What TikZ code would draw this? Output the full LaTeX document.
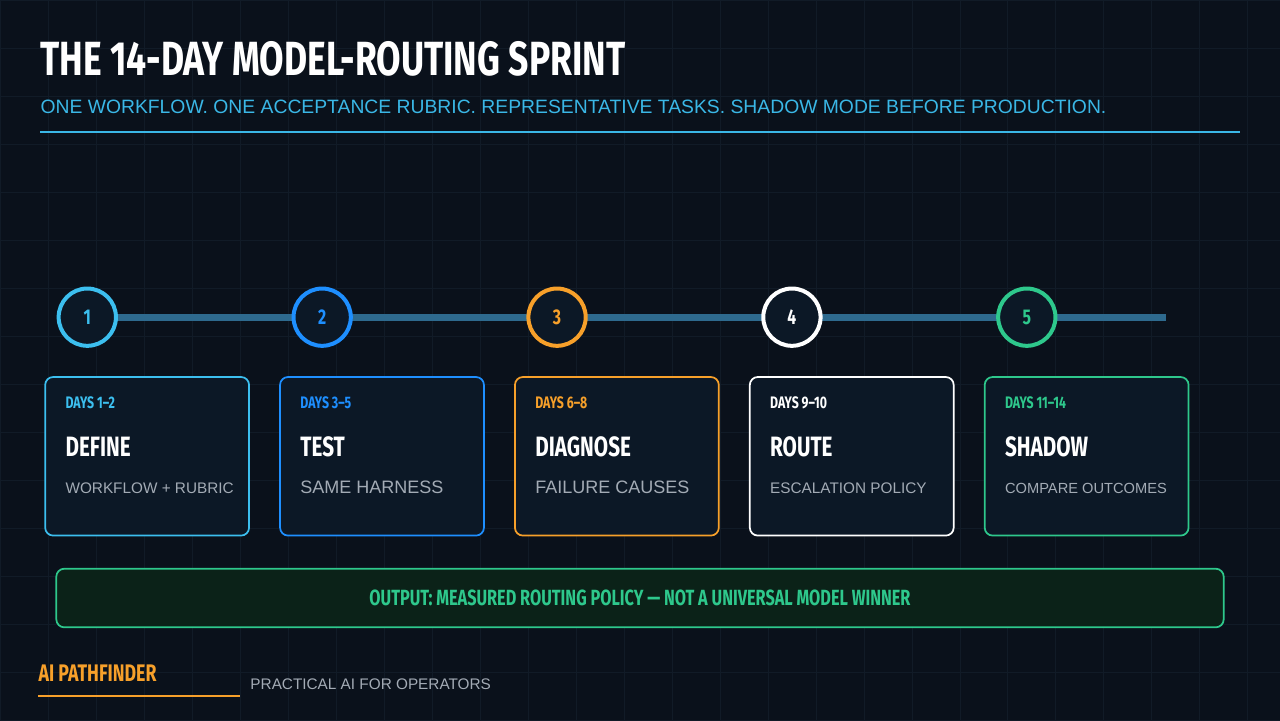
\documentclass[tikz,border=0pt]{standalone}
\usepackage{fontspec}
\setmainfont{Liberation Sans}
\newfontfamily\condfont[FakeStretch=0.74]{Fira Sans}
\usetikzlibrary{positioning}
\definecolor{bgcol}{HTML}{0A111B}
\definecolor{gridcol}{HTML}{111B27}
\definecolor{trackcol}{HTML}{2E6A8E}
\definecolor{subblue}{HTML}{3AB7E6}
\definecolor{cone}{HTML}{3CBFEF}
\definecolor{ctwo}{HTML}{1E8FFF}
\definecolor{cthree}{HTML}{F7A02A}
\definecolor{cfour}{HTML}{FFFFFF}
\definecolor{cfive}{HTML}{2EC88C}
\definecolor{boxfill}{HTML}{0C1826}
\definecolor{outfill}{HTML}{0B2218}
\definecolor{greytext}{HTML}{A3ABB5}
\begin{document}
\begin{tikzpicture}[x=0.75pt,y=-0.75pt,
  stepcirc/.style={circle,draw,line width=3pt,fill=boxfill,minimum size=43pt,inner sep=0pt,
    font=\condfont\bfseries\fontsize{16}{16}\selectfont},
  stepbox/.style={draw,line width=1.3pt,rounded corners=6pt,fill=boxfill,
    minimum width=153pt,minimum height=119pt,inner sep=0pt},
  daytxt/.style={anchor=base west,inner sep=0pt,font=\condfont\bfseries\fontsize{12.5}{12}\selectfont},
  headtxt/.style={anchor=base west,inner sep=0pt,text=white,font=\condfont\bfseries\fontsize{21}{21}\selectfont},
  subtxt/.style={anchor=base west,inner sep=0pt,text=greytext}]

  % background and grid
  \fill[bgcol] (0,0) rectangle (1280,720);
  \foreach \g in {0,48,...,1280} \draw[gridcol,line width=0.5pt] (\g,0) -- (\g,720);
  \foreach \g in {0,48,...,720} \draw[gridcol,line width=0.5pt] (0,\g) -- (1280,\g);
  \useasboundingbox (0,0) rectangle (1280,720);

  % header
  \node[anchor=base west,text=white,inner sep=0pt,font=\condfont\bfseries\fontsize{36}{36}\selectfont]
    (title) at (40,75) {THE 14-DAY MODEL-ROUTING SPRINT};
  \node[anchor=base west,text=subblue,inner sep=0pt,font=\fontsize{14.5}{15}\selectfont]
    (subtitle) at (40,113) {ONE WORKFLOW. ONE ACCEPTANCE RUBRIC. REPRESENTATIVE TASKS. SHADOW MODE BEFORE PRODUCTION.};
  \draw[subblue,line width=1.5pt] (40,132) -- (1240,132);

  % timeline
  \coordinate (trackend) at (1166,317);
  \draw[trackcol,line width=5.5pt] (87,317) -- (trackend);

  \foreach \i/\col/\days/\name/\sub/\fs in {
      1/cone/DAYS 1–2/DEFINE/WORKFLOW + RUBRIC/11.5,
      2/ctwo/DAYS 3–5/TEST/SAME HARNESS/13.5,
      3/cthree/DAYS 6–8/DIAGNOSE/FAILURE CAUSES/13.5,
      4/cfour/DAYS 9–10/ROUTE/ESCALATION POLICY/11.5,
      5/cfive/DAYS 11–14/SHADOW/COMPARE OUTCOMES/11}{
    \pgfmathsetmacro{\cx}{87+235*(\i-1)}
    \node[stepcirc,draw=\col,text=\col] (c\i) at (\cx,317) {\i};
    \node[stepbox,draw=\col,anchor=north west] (b\i) at (\cx-43,376) {};
    \node[daytxt,text=\col] (d\i) at (\cx-22,408) {\days};
    \node[headtxt] (h\i) at (\cx-22,456) {\name};
    \node[subtxt,font=\fontsize{\fs}{\fs}\selectfont] (s\i) at (\cx-22,493) {\sub};
  }

  % output banner
  \node[draw=cfive,fill=outfill,line width=1.3pt,rounded corners=6pt,
    minimum width=876pt,minimum height=44pt,text=cfive,
    font=\condfont\bfseries\fontsize{16.5}{16}\selectfont] (output) at (640,598)
    {OUTPUT: MEASURED ROUTING POLICY — NOT A UNIVERSAL MODEL WINNER};

  % footer
  \node[anchor=base west,inner sep=0pt,text=cthree,font=\condfont\bfseries\fontsize{18}{18}\selectfont]
    (brand) at (38,682) {AI PATHFINDER};
  \draw[cthree,line width=2.2pt] (38,696) -- (240,696);
  \node[anchor=base west,inner sep=0pt,text=greytext,font=\fontsize{11.5}{12}\selectfont]
    (tagline) at (250,690) {PRACTICAL AI FOR OPERATORS};
\end{tikzpicture}
\end{document}
